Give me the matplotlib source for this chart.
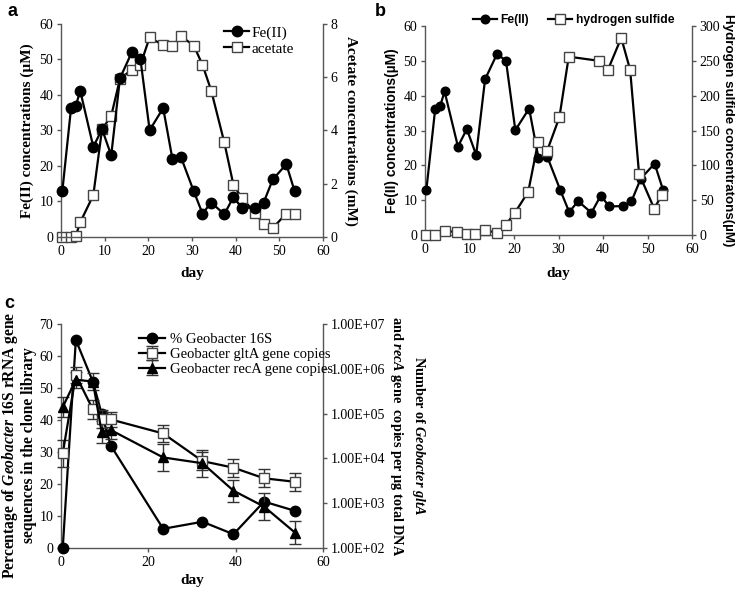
import matplotlib
matplotlib.use("Agg")
import matplotlib.pyplot as plt
import numpy as np
from matplotlib.ticker import FixedLocator, FuncFormatter, NullLocator

plt.rcParams["font.family"] = "Liberation Serif"
plt.rcParams["mathtext.fontset"] = "custom"
plt.rcParams["mathtext.rm"] = "Liberation Serif"
plt.rcParams["mathtext.it"] = "Liberation Serif:italic"
plt.rcParams["mathtext.bf"] = "Liberation Serif:bold"
plt.rcParams["mathtext.bfit"] = "Liberation Serif:italic:bold"

# panel a / b : Fe(II), acetate, sulfide
fe_days = [0.3, 2.3, 3.4, 4.4, 7.4, 9.4, 11.5, 13.5, 16.2, 18.2, 20.3, 23.4, 25.5,
           27.5, 30.4, 32.4, 34.4, 37.4, 39.5, 41.4, 44.4, 46.4, 48.5, 51.6, 53.5]
fe_conc = [12.9, 36.3, 37, 41.2, 25.4, 30.4, 23, 44.7, 52, 50, 30.1, 36.3, 22.1,
           22.4, 12.9, 6.6, 9.7, 6.4, 11.3, 8.2, 8.3, 9.7, 16.2, 20.5, 12.9]
acetate = [0, 0, 0.05, 0.55, 1.57, 4.05, 4.55, 5.94, 6.28, 6.47, 7.5, 7.2, 7.16,
           7.54, 7.19, 6.47, 5.5, 3.55, 1.95, 1.47, 0.92, 0.48, 0.34, 0.88, 0.88]
hs_days = [0.2, 2.3, 4.4, 7.3, 9.4, 11.3, 13.5, 16.2, 18.2, 20.2, 23.2, 25.4, 27.4,
           30.2, 32.3, 39.1, 41.1, 44.1, 46.1, 48.1, 51.5, 53.2]
sulfide = [0, 0, 6, 4, 2, 2, 7, 3, 15, 32, 62, 133, 120, 169, 256, 250, 237, 283,
           237, 88, 38, 57]

# panel c : clone library and qPCR
c_days = [0.4, 3.4, 7.3, 9.3, 11.4, 23.4, 32.4, 39.5, 46.5, 53.6]
pct16s = [0, 65, 52, 42, 32, 6, 8.2, 4.3, 14.5, 11.6]
glta = [1.3e4, 7.2e5, 1.24e5, 7.7e4, 7.4e4, 3.6e4, 8.7e3, 6.2e3, 3.6e3, 3.0e3]
reca = [1.4e5, 5.7e5, 5.2e5, 3.9e4, 4.3e4, 1.05e4, 7.8e3, 1.9e3, 8.4e2, 2.2e2]
glta_err = [0.3, 0.18, 0.22, 0.2, 0.17, 0.2, 0.2, 0.2, 0.2, 0.2]   # decades
reca_err = [0.22, 0.18, 0.2, 0.25, 0.2, 0.3, 0.3, 0.25, 0.3, 0.25]

W, H = 749, 591
fig = plt.figure(figsize=(W / 100, H / 100), dpi=100)


def px_axes(x0, y0, x1, y1):
    return fig.add_axes([x0 / W, 1 - y1 / H, (x1 - x0) / W, (y1 - y0) / H])


def style(ax, right=False):
    ax.spines["top"].set_visible(False)
    for s in ["left", "bottom", "right"]:
        ax.spines[s].set_color("#555555")
        ax.spines[s].set_linewidth(1.0)
    if not right:
        ax.spines["right"].set_visible(False)
    ax.tick_params(direction="out", length=3, width=1, color="#555555",
                   labelsize=10, pad=2.5)


def mk(marker, ms, face, edge="black", mew=1.0):
    return dict(marker=marker, ms=ms, mfc=face, mec=edge, mew=mew,
                color="black", lw=1.6, clip_on=False)


# ---------------- panel a ----------------
ax_a = px_axes(61, 24, 323, 237)
ax_a2 = ax_a.twinx()
ax_a2.plot(fe_days, acetate, label="acetate", **mk("s", 6.5, "white", "#444444"))
ax_a.plot(fe_days, fe_conc, label="Fe(II)", zorder=5, **mk("o", 7.5, "black"))
ax_a.set_zorder(ax_a2.get_zorder() + 1)
ax_a.patch.set_visible(False)
ax_a.set_xlim(0, 60)
ax_a.set_ylim(0, 60)
ax_a2.set_ylim(0, 8)
ax_a.set_xticks(range(0, 61, 10))
ax_a.set_yticks(range(0, 61, 10))
style(ax_a)
style(ax_a2, right=True)
ax_a2.spines["left"].set_visible(False)
ax_a2.spines["bottom"].set_visible(False)
ax_a.set_xlabel("day", fontweight="bold", fontsize=11, labelpad=7)
ax_a.set_ylabel("Fe(II) concentrations (\u00b5M)", fontweight="bold", fontsize=11)
ax_a2.set_ylabel("Acetate concentrations (mM)", fontweight="bold", fontsize=11,
                 rotation=270, labelpad=14)
h1, l1 = ax_a.get_legend_handles_labels()
h2, l2 = ax_a2.get_legend_handles_labels()
ax_a.legend(h1 + h2, l1 + l2, loc="upper left", bbox_to_anchor=(0.60, 1.02),
            frameon=False, fontsize=11, handlelength=1.6, handletextpad=0.2,
            labelspacing=0.15, borderaxespad=0)

# ---------------- panel b ----------------
ax_b = px_axes(425, 26, 692, 235)
ax_b2 = ax_b.twinx()
ax_b.plot(fe_days, fe_conc, label="Fe(II)", zorder=5, **mk("o", 6.2, "black"))
ax_b2.plot(hs_days, sulfide, label="hydrogen sulfide",
           **mk("s", 7.5, "white", "#444444"))
ax_b.set_xlim(0, 60)
ax_b.set_ylim(0, 60)
ax_b2.set_ylim(0, 300)
ax_b.set_xticks(range(0, 61, 10))
ax_b.set_yticks(range(0, 61, 10))
ax_b2.set_yticks(range(0, 301, 50))
style(ax_b)
style(ax_b2, right=True)
ax_b2.spines["left"].set_visible(False)
ax_b2.spines["bottom"].set_visible(False)
ax_b.set_xlabel("day", fontweight="bold", fontsize=11, labelpad=8)
ax_b.set_ylabel("Fe(II) concentrations(\u00b5M)", fontweight="bold", fontsize=10,
                family="Liberation Sans", labelpad=3)
ax_b2.set_ylabel("Hydrogen sulfide concentratons(\u00b5M)", fontweight="bold",
                 fontsize=9.6, family="Liberation Sans", rotation=270, labelpad=10)
h1, l1 = ax_b.get_legend_handles_labels()
h2, l2 = ax_b2.get_legend_handles_labels()
ax_b.legend(h1 + h2, l1 + l2, loc="center left", bbox_to_anchor=(0.16, 1.03),
            ncol=2, frameon=False, handlelength=2.0, handletextpad=0.3,
            columnspacing=1.6, borderaxespad=0,
            prop=dict(family="Liberation Sans", weight="bold", size=8.7))

# ---------------- panel c ----------------
ax_c = px_axes(61, 324, 323, 548)
ax_c2 = ax_c.twinx()
ax_c.plot(c_days, pct16s, label="% Geobacter 16S", zorder=5, **mk("o", 7.5, "black"))
glta = np.array(glta)
reca = np.array(reca)
g_err = [glta - glta / 10 ** np.array(glta_err), glta * 10 ** np.array(glta_err) - glta]
r_err = [reca - reca / 10 ** np.array(reca_err), reca * 10 ** np.array(reca_err) - reca]
ax_c2.errorbar(c_days, glta, yerr=g_err, capsize=4, ecolor="#333333", elinewidth=1,
               label="Geobacter gltA gene copies", **mk("s", 6.5, "white", "#444444"))
ax_c2.errorbar(c_days, reca, yerr=r_err, capsize=4, ecolor="#333333", elinewidth=1,
               label="Geobacter recA gene copies", **mk("^", 7.5, "black"))
ax_c.set_xlim(0, 60)
ax_c.set_ylim(0, 70)
ax_c.set_xticks([0, 20, 40, 60])
ax_c.set_yticks(range(0, 71, 10))
ax_c2.set_yscale("log")
ax_c2.set_ylim(1e2, 1e7)
ax_c2.yaxis.set_major_locator(FixedLocator([1e2, 1e3, 1e4, 1e5, 1e6, 1e7]))
ax_c2.yaxis.set_minor_locator(NullLocator())
ax_c2.yaxis.set_major_formatter(FuncFormatter(lambda v, p: f"{v:.2E}"))
style(ax_c)
style(ax_c2, right=True)
ax_c2.spines["left"].set_visible(False)
ax_c2.spines["bottom"].set_visible(False)
ax_c.set_xlabel("day", fontweight="bold", fontsize=11, labelpad=4)
ax_c.set_ylabel("Percentage of $\\mathbfit{Geobacter}$ 16S rRNA gene\n"
                "sequences in the clone library", fontweight="bold", fontsize=11.2,
                linespacing=1.05)
ax_c.yaxis.set_label_coords(-0.092, 0.46)
ax_c2.set_ylabel("Number of $\\mathbfit{Geobacter}$ $\\mathbfit{gltA}$\n"
                 "and $\\mathbfit{recA}$ gene  copies per \u00b5g total DNA",
                 fontweight="bold", fontsize=10.3, rotation=270, labelpad=30,
                 linespacing=1.4)
h1, l1 = ax_c.get_legend_handles_labels()
h2, l2 = ax_c2.get_legend_handles_labels()
ax_c2.legend(h1 + h2, l1 + l2, loc="upper left", bbox_to_anchor=(0.275, 0.985),
             frameon=False, fontsize=10.5, handlelength=1.8, handletextpad=0.3,
             labelspacing=0.1, borderaxespad=0)

# panel letters
for x, y, s in [(8, 16, "a"), (375, 16, "b"), (4, 308, "c")]:
    fig.text(x / W, 1 - y / H, s, family="Liberation Sans", fontweight="bold",
             fontsize=13)

fig.savefig("out.png", dpi=100)
